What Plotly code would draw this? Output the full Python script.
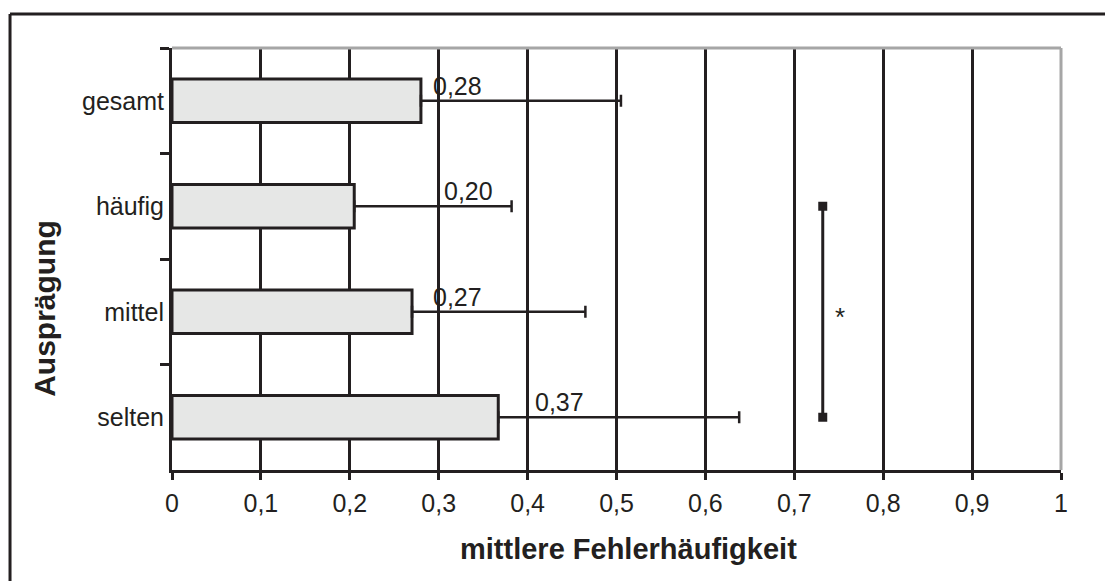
import plotly.graph_objects as go

# ---- data ----
categories = ["gesamt", "häufig", "mittel", "selten"]
means = [0.28, 0.205, 0.27, 0.367]
errors = [0.225, 0.177, 0.195, 0.271]
value_labels = ["0,28", "0,20", "0,27", "0,37"]
label_x = [0.321, 0.334, 0.321, 0.436]
sig_pair = ["häufig", "selten"]
sig_x = 0.732
sig_mark = "*"
sig_mark_cat = "mittel"
x_ticks = [0, 0.1, 0.2, 0.3, 0.4, 0.5, 0.6, 0.7, 0.8, 0.9, 1]

INK = "#231f20"
FONT = "Arial, Liberation Sans, sans-serif"

fig = go.Figure()
fig.add_trace(go.Bar(
    y=categories, x=means, orientation="h",
    marker=dict(color="#e6e7e6", line=dict(color=INK, width=3)),
    error_x=dict(type="data", symmetric=False, array=errors,
                 arrayminus=[0] * len(errors), color=INK, thickness=2.5, width=6),
    showlegend=False, hoverinfo="skip",
))
fig.add_trace(go.Scatter(
    x=[sig_x, sig_x], y=sig_pair, mode="lines+markers",
    line=dict(color=INK, width=3),
    marker=dict(symbol="square", size=9, color=INK),
    showlegend=False, hoverinfo="skip",
))

for cat, lab, lx in zip(categories, value_labels, label_x):
    fig.add_annotation(x=lx, y=cat, text=lab, showarrow=False, xanchor="center",
                       yanchor="middle", yshift=15, font=dict(family=FONT, size=25, color=INK))

fig.add_annotation(x=sig_x + 0.019, y=sig_mark_cat, text=sig_mark, showarrow=False,
                   xanchor="center", yanchor="middle", yshift=-5,
                   font=dict(family=FONT, size=26, color=INK))

# axis titles
fig.add_annotation(xref="paper", yref="paper", x=0.513, y=-0.187, text="<b>mittlere Fehlerhäufigkeit</b>",
                   showarrow=False, xanchor="center", yanchor="middle",
                   font=dict(family=FONT, size=29, color=INK))
fig.add_annotation(xref="paper", yref="paper", x=-0.143, y=0.384, text="<b>Ausprägung</b>",
                   showarrow=False, xanchor="center", yanchor="middle", textangle=-90,
                   font=dict(family=FONT, size=30, color=INK))

# gray top/right border
fig.add_shape(type="line", xref="paper", yref="paper", x0=0, x1=1, y0=1, y1=1,
              line=dict(color="#a6a6a6", width=3), layer="above")
fig.add_shape(type="line", xref="paper", yref="paper", x0=1, x1=1, y0=0, y1=1,
              line=dict(color="#a6a6a6", width=3), layer="above")
# outer frame (left and top edges visible)
fig.add_shape(type="line", xref="paper", yref="paper", x0=-0.1822, x1=-0.1822, y0=-0.5, y1=1.0806,
              line=dict(color=INK, width=3))
fig.add_shape(type="line", xref="paper", yref="paper", x0=-0.1822, x1=1.2, y0=1.0806, y1=1.0806,
              line=dict(color=INK, width=3))

fig.update_layout(
    width=1105, height=581,
    margin=dict(l=172, r=44, t=48, b=111),
    paper_bgcolor="white", plot_bgcolor="white",
    separators=",.",
    bargap=0.59,
    font=dict(family=FONT, size=25, color=INK),
    xaxis=dict(range=[0, 1], tickvals=x_ticks, showgrid=True, gridcolor=INK, gridwidth=3,
               zeroline=False, showline=True, linecolor=INK, linewidth=3,
               ticks="outside", ticklen=7, tickwidth=3, tickcolor=INK,
               ticklabelstandoff=2, tickfont=dict(size=25)),
    yaxis=dict(categoryorder="array", categoryarray=categories, range=[3.5, -0.5],
               showgrid=False, zeroline=False, showline=True, linecolor=INK, linewidth=3,
               ticks="outside", tickson="boundaries", ticklen=9, tickwidth=3, tickcolor=INK,
               tickfont=dict(size=25)),
)

fig.write_html("out.html")
